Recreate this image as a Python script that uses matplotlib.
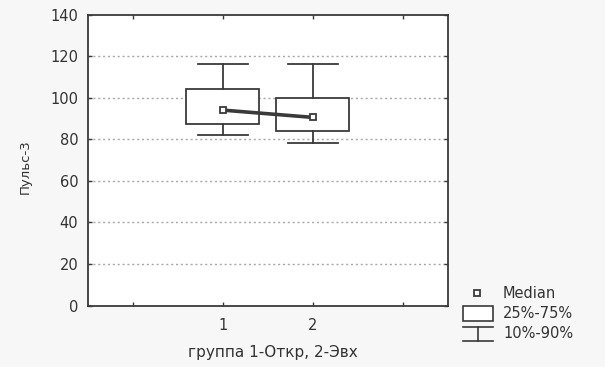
import matplotlib
matplotlib.use("Agg")
import matplotlib.pyplot as plt
from matplotlib.patches import Rectangle
from matplotlib.lines import Line2D

# Data
groups = [1, 2]
medians = [94, 90.5]
q1 = [87.5, 84]
q3 = [104, 100]
p10 = [82, 78]
p90 = [116, 116]
yticks = [0, 20, 40, 60, 80, 100, 120, 140]
xtick_labels = ["1", "2"]
xlabel = "группа 1-Откр, 2-Эвх"
ylabel = "Пульс-3"
legend_labels = ["Median", "25%-75%", "10%-90%"]

plt.rcParams['font.family'] = ['DejaVu Sans']
W, H = 605, 367
fig = plt.figure(figsize=(W / 100, H / 100), dpi=100, facecolor='#f7f7f7')
ax = fig.add_axes([88 / W, 1 - 305.5 / H, (447.5 - 88) / W, (305.5 - 14.5) / H])
ax.set_facecolor('white')

dark = '#3a3a3a'
txt = '#333333'

stats = []
for i in range(len(groups)):
    stats.append(dict(med=medians[i], q1=q1[i], q3=q3[i], whislo=p10[i], whishi=p90[i], fliers=[]))
ax.bxp(stats, positions=groups, widths=0.81, capwidths=0.56, showfliers=False, patch_artist=True,
       boxprops=dict(facecolor='white', edgecolor=dark, linewidth=1.3),
       whiskerprops=dict(color=dark, linewidth=1.3),
       capprops=dict(color=dark, linewidth=1.3),
       medianprops=dict(linestyle='none'), manage_ticks=False, zorder=3)

ax.plot(groups, medians, color='#3a3a3a', linewidth=2.6, zorder=4, solid_capstyle='butt')
ax.plot(groups, medians, linestyle='none', marker='s', markersize=5, markerfacecolor='white',
        markeredgecolor=dark, markeredgewidth=1.3, zorder=5)

ax.set_xlim(-0.5, 3.5)
ax.set_ylim(0, 140)
ax.set_yticks(yticks)
ax.set_yticklabels([str(v) for v in yticks], fontsize=10.5, color=txt)
ax.set_xticks([0, 1, 2, 3])
ax.set_xticklabels([""] + xtick_labels + [""], fontsize=10.5, color=txt)
ax.tick_params(axis='both', direction='in', length=3, width=1, color=dark, top=True, right=True)
ax.tick_params(axis='y', pad=7)
ax.tick_params(axis='x', pad=9)
for y in yticks[1:-1]:
    ax.axhline(y, color='#a8a8a8', linewidth=1, linestyle=(0, (1.5, 2)), zorder=1)
for s in ax.spines.values():
    s.set_color(dark)
    s.set_linewidth(1.3)

fig.text(25 / W, 1 - 167 / H, ylabel, rotation=90, ha='center', va='center', fontsize=9.5, color=txt)
fig.text(273 / W, 1 - 353 / H, xlabel, ha='center', va='center', fontsize=11, color=txt)

# Legend (drawn manually to match)
def fx(x):
    return x / W
def fy(y):
    return 1 - y / H

fig.add_artist(Line2D([fx(477)], [fy(293)], marker='s', markersize=4.5, markerfacecolor='white',
                      markeredgecolor=dark, markeredgewidth=1.3, linestyle='none'))
fig.add_artist(Rectangle((fx(463), fy(321)), fx(493) - fx(463), fy(306) - fy(321),
                         facecolor='white', edgecolor=dark, linewidth=1.2, transform=fig.transFigure))
fig.add_artist(Line2D([fx(463), fx(493)], [fy(327), fy(327)], color=dark, linewidth=1.2))
fig.add_artist(Line2D([fx(463), fx(493)], [fy(341), fy(341)], color=dark, linewidth=1.2))
fig.add_artist(Line2D([fx(478), fx(478)], [fy(327), fy(341)], color=dark, linewidth=1.2))
for lbl, y in zip(legend_labels, [293, 313, 333]):
    fig.text(fx(503), fy(y), lbl, ha='left', va='center', fontsize=10.5, color=txt)

fig.savefig('out.png', dpi=100, facecolor=fig.get_facecolor())
